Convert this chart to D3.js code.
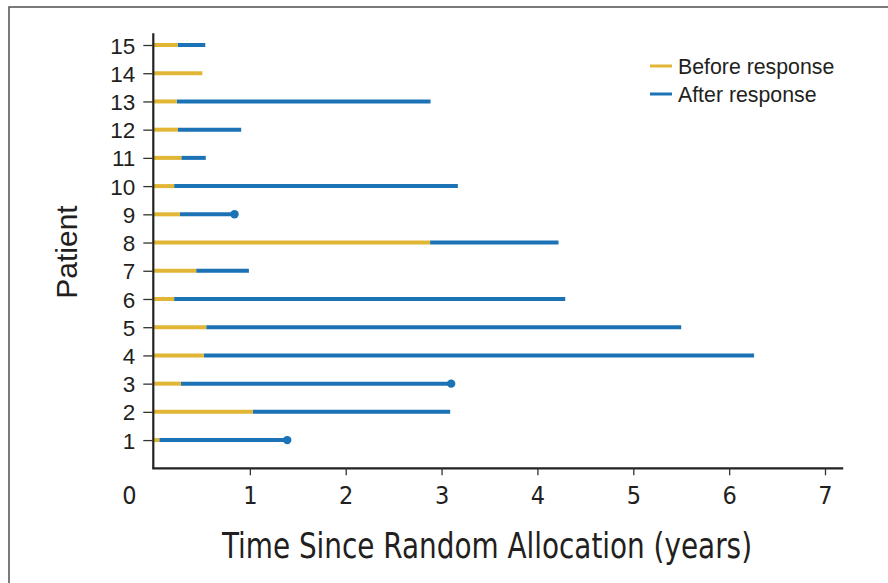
<!DOCTYPE html>
<html>
<head>
<meta charset="utf-8">
<script src="https://cdn.jsdelivr.net/npm/d3@7"></script>
<style>
  html, body { margin: 0; padding: 0; background: #fff; }
  svg { display: block; }
  .cond { font-family: "Liberation Sans Narrow", "DejaVu Sans Condensed", "Arial Narrow", sans-serif; }
  .reg { font-family: "Liberation Sans", Arial, Helvetica, sans-serif; }
</style>
</head>
<body>
<svg id="chart" width="888" height="583"></svg>
<script>
// Patients and the time (years since random allocation) spent before and after response
const patients = [1, 2, 3, 4, 5, 6, 7, 8, 9, 10, 11, 12, 13, 14, 15];
const beforeEnd = [0.055, 1.03, 0.28, 0.52, 0.545, 0.21, 0.44, 2.88, 0.27, 0.21, 0.285, 0.25, 0.237, 0.504, 0.247];
const afterEnd  = [1.39, 3.09, 3.10, 6.26, 5.50, 4.29, 0.99, 4.22, 0.84, 3.17, 0.54, 0.91, 2.885, null, 0.535];
const endMarker = [true, false, true, false, false, false, false, false, true, false, false, false, false, false, false];
const xTicks = [0, 1, 2, 3, 4, 5, 6, 7];
const seriesNames = ["Before response", "After response"];
const seriesColors = ["#E1B634", "#1B72B4"];

const svg = d3.select("#chart");

// Outer frame
svg.append("rect")
  .attr("x", 9).attr("y", 7)
  .attr("width", 900).attr("height", 600)
  .attr("fill", "none").attr("stroke", "#5a5a5a").attr("stroke-width", 1.6);

const x = d3.scaleLinear().domain([0, 7]).range([154, 825]);
const y = d3.scaleLinear().domain([0, 15]).range([468.3, 45]);

const rows = patients.map((p, i) => ({
  p, b: beforeEnd[i], a: afterEnd[i], dot: endMarker[i]
}));

// Bars: after-response segment first, before-response on top
const g = svg.append("g");
g.selectAll("line.after")
  .data(rows.filter(d => d.a != null))
  .join("line")
  .attr("class", "after")
  .attr("x1", d => x(d.b)).attr("x2", d => x(d.a))
  .attr("y1", d => y(d.p)).attr("y2", d => y(d.p))
  .attr("stroke", seriesColors[1]).attr("stroke-width", 4);

g.selectAll("line.before")
  .data(rows)
  .join("line")
  .attr("class", "before")
  .attr("x1", x(0)).attr("x2", d => x(d.b))
  .attr("y1", d => y(d.p)).attr("y2", d => y(d.p))
  .attr("stroke", seriesColors[0]).attr("stroke-width", 4);

g.selectAll("circle.end")
  .data(rows.filter(d => d.dot))
  .join("circle")
  .attr("class", "end")
  .attr("cx", d => x(d.a)).attr("cy", d => y(d.p))
  .attr("r", 4.2)
  .attr("fill", seriesColors[1]);

// Y axis
const yAxis = svg.append("g").attr("transform", `translate(${x(0) - 0.7},0)`)
  .call(d3.axisLeft(y).tickValues(patients).tickSize(10).tickPadding(8).tickFormat(d3.format("d")));
yAxis.select(".domain").attr("d", `M0,${y(15.42)}V${y(0)}`)
  .attr("stroke", "#222").attr("stroke-width", 2.2);
yAxis.selectAll(".tick line").attr("stroke", "#333").attr("stroke-width", 1.3);
yAxis.selectAll(".tick text")
  .attr("class", "reg")
  .attr("font-size", 22.5).attr("fill", "#231f20")
  .attr("dy", "0.36em");

// X axis
const xAxis = svg.append("g").attr("transform", `translate(0,${y(0)})`)
  .call(d3.axisBottom(x).tickValues(xTicks).tickSize(7).tickPadding(11).tickFormat(d3.format("d")));
xAxis.select(".domain").attr("d", `M${x(0) - 1.8},0H${x(7.19)}`)
  .attr("stroke", "#222").attr("stroke-width", 2.2);
xAxis.selectAll(".tick line").attr("stroke", "#333").attr("stroke-width", 1.3);
xAxis.selectAll(".tick").filter(d => d === 0).select("line").remove();
xAxis.selectAll(".tick text")
  .attr("class", "cond")
  .attr("font-size", 25).attr("fill", "#231f20")
  .attr("dx", d => d === 0 ? -25 : 0);

// Axis titles
svg.append("text")
  .attr("class", "cond")
  .attr("x", 487).attr("y", 558)
  .attr("text-anchor", "middle")
  .attr("font-size", 36).attr("fill", "#231f20")
  .attr("textLength", 530).attr("lengthAdjust", "spacingAndGlyphs")
  .text("Time Since Random Allocation (years)");

svg.append("text")
  .attr("class", "reg")
  .attr("transform", "translate(77,252) rotate(-90)")
  .attr("text-anchor", "middle")
  .attr("font-size", 30).attr("fill", "#231f20")
  .text("Patient");

// Legend
const legend = svg.append("g").attr("transform", "translate(650,66)");
seriesNames.forEach((name, i) => {
  const row = legend.append("g").attr("transform", `translate(0,${i * 28})`);
  row.append("line")
    .attr("x1", 0).attr("x2", 22).attr("y1", 0).attr("y2", 0)
    .attr("stroke", seriesColors[i]).attr("stroke-width", 3);
  row.append("text")
    .attr("class", "reg")
    .attr("x", 28).attr("y", 7.5)
    .attr("font-size", 21.3).attr("fill", "#231f20")
    .text(name);
});
</script>
</body>
</html>
